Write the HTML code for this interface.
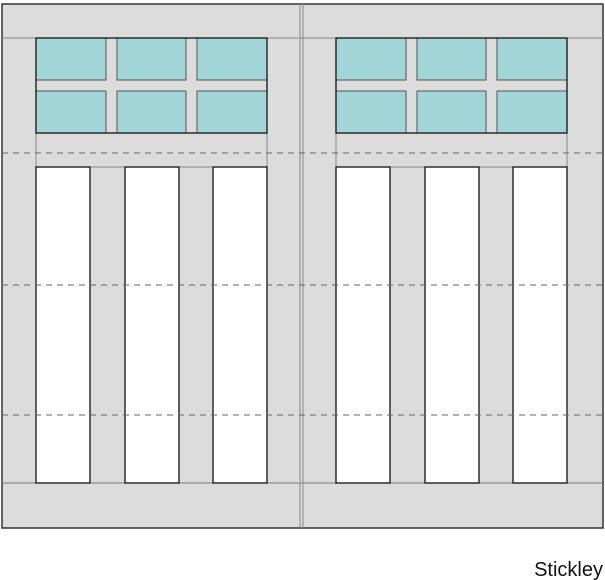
<!DOCTYPE html>
<html><head><style>body{margin:0;background:#fff}svg{display:block}</style></head>
<body>
<svg width="605" height="580" xmlns="http://www.w3.org/2000/svg">
<rect x="2" y="4" width="601" height="524" fill="#dcdcdc" stroke="#333" stroke-width="1.5"/>
<line x1="2" y1="38" x2="603" y2="38" stroke="#888" stroke-width="1"/>
<line x1="2" y1="483" x2="603" y2="483" stroke="#777" stroke-width="1"/>
<line x1="300" y1="4" x2="300" y2="528" stroke="#888" stroke-width="1"/>
<line x1="303" y1="4" x2="303" y2="528" stroke="#888" stroke-width="1"/>
<g id="L">
<rect x="36" y="38" width="231" height="129" fill="none" stroke="#888" stroke-width="1"/>
<rect x="36" y="38" width="231" height="95" fill="#dcdcdc" stroke="#111" stroke-width="1"/>
<g fill="#a2d5d7" stroke="#555" stroke-width="1">
<rect x="36" y="38" width="70" height="42"/><rect x="117" y="38" width="69" height="42"/><rect x="197" y="38" width="70" height="42"/>
<rect x="36" y="91" width="70" height="42"/><rect x="117" y="91" width="69" height="42"/><rect x="197" y="91" width="70" height="42"/>
</g>
<rect x="36" y="38" width="231" height="95" fill="none" stroke="#111" stroke-width="1.3"/>
<g fill="#fff" stroke="#111" stroke-width="1.3">
<rect x="36" y="167" width="54" height="316"/><rect x="125" y="167" width="54" height="316"/><rect x="213" y="167" width="54" height="316"/>
</g>
</g>
<use href="#L" x="300"/>
<g stroke="#666" stroke-width="1" stroke-dasharray="6,5">
<line x1="2" y1="153" x2="603" y2="153"/>
<line x1="2" y1="285" x2="603" y2="285"/>
<line x1="2" y1="415" x2="603" y2="415"/>
</g>
<text x="603" y="576" text-anchor="end" font-family="Liberation Sans, sans-serif" font-size="20" fill="#111">Stickley</text>
</svg>
</body></html>
